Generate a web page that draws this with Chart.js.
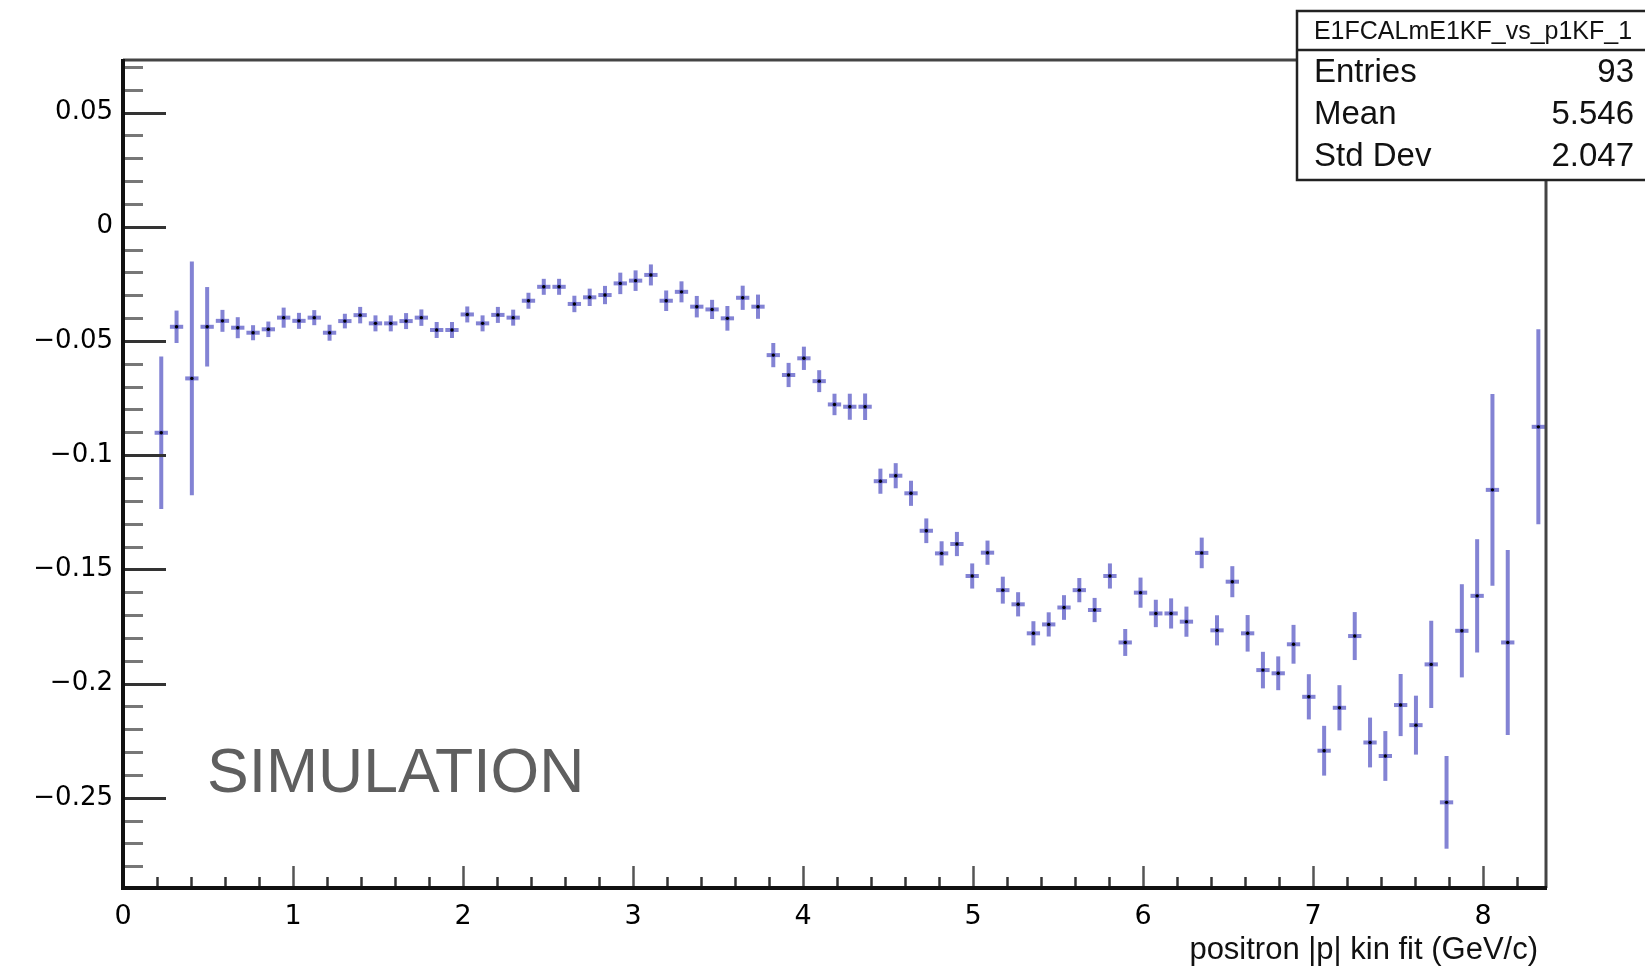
<!DOCTYPE html>
<html>
<head>
<meta charset="utf-8">
<title>E1FCALmE1KF_vs_p1KF_1</title>
<script src="https://cdn.jsdelivr.net/npm/chart.js@4.4.1/dist/chart.umd.min.js"></script>
<style>
  html, body { margin: 0; padding: 0; background: #fff; }
  #wrap { width: 1645px; height: 970px; position: relative; }
</style>
</head>
<body>
<div id="wrap"><canvas id="chart" width="1645" height="970"></canvas></div>
<script>
// bin centres (GeV/c), bin width 0.09, range 0 - 8.37
const binCenters = [
  0.225, 0.315, 0.405, 0.495, 0.585, 0.675, 0.765, 0.855, 0.945, 1.035,
  1.125, 1.215, 1.305, 1.395, 1.485, 1.575, 1.665, 1.755, 1.845, 1.935,
  2.025, 2.115, 2.205, 2.295, 2.385, 2.475, 2.565, 2.655, 2.745, 2.835,
  2.925, 3.015, 3.105, 3.195, 3.285, 3.375, 3.465, 3.555, 3.645, 3.735,
  3.825, 3.915, 4.005, 4.095, 4.185, 4.275, 4.365, 4.455, 4.545, 4.635,
  4.725, 4.815, 4.905, 4.995, 5.085, 5.175, 5.265, 5.355, 5.445, 5.535,
  5.625, 5.715, 5.805, 5.895, 5.985, 6.075, 6.165, 6.255, 6.345, 6.435,
  6.525, 6.615, 6.705, 6.795, 6.885, 6.975, 7.065, 7.155, 7.245, 7.335,
  7.425, 7.515, 7.605, 7.695, 7.785, 7.875, 7.965, 8.055, 8.145, 8.325
];
const binValues = [
  -0.0902, -0.0438, -0.0664, -0.0438, -0.0412, -0.0442, -0.0464, -0.0449, -0.0398, -0.0412,
  -0.0398, -0.0464, -0.0413, -0.0387, -0.0423, -0.0423, -0.0413, -0.0398, -0.0452, -0.0452,
  -0.0384, -0.0423, -0.0386, -0.0398, -0.0324, -0.0263, -0.0263, -0.0338, -0.0309, -0.0299,
  -0.0248, -0.0236, -0.0211, -0.0324, -0.0285, -0.0350, -0.0362, -0.0401, -0.0311, -0.0350,
  -0.0562, -0.0649, -0.0576, -0.0676, -0.0778, -0.0788, -0.0788, -0.1114, -0.1090, -0.1167,
  -0.1331, -0.1430, -0.1389, -0.1529, -0.1427, -0.1591, -0.1653, -0.1780, -0.1741, -0.1667,
  -0.1591, -0.1678, -0.1529, -0.1820, -0.1602, -0.1693, -0.1693, -0.1729, -0.1428, -0.1767,
  -0.1554, -0.1780, -0.1941, -0.1955, -0.1828, -0.2058, -0.2294, -0.2106, -0.1792, -0.2258,
  -0.2317, -0.2094, -0.2182, -0.1916, -0.2520, -0.1769, -0.1616, -0.1152, -0.1820, -0.0876
];
const binErrors = [
  0.0334, 0.0071, 0.0512, 0.0174, 0.0048, 0.0046, 0.0033, 0.0034, 0.0044, 0.0035,
  0.0033, 0.0035, 0.0032, 0.0036, 0.0035, 0.0035, 0.0035, 0.0036, 0.0035, 0.0035,
  0.0035, 0.0035, 0.0035, 0.0035, 0.0035, 0.0035, 0.0035, 0.0036, 0.0038, 0.0040,
  0.0047, 0.0045, 0.0046, 0.0045, 0.0046, 0.0047, 0.0042, 0.0054, 0.0053, 0.0053,
  0.0053, 0.0053, 0.0051, 0.0048, 0.0047, 0.0057, 0.0058, 0.0055, 0.0055, 0.0055,
  0.0054, 0.0053, 0.0053, 0.0055, 0.0053, 0.0059, 0.0053, 0.0053, 0.0053, 0.0054,
  0.0053, 0.0053, 0.0055, 0.0059, 0.0066, 0.0060, 0.0066, 0.0066, 0.0067, 0.0066,
  0.0068, 0.0080, 0.0080, 0.0074, 0.0085, 0.0099, 0.0109, 0.0099, 0.0105, 0.0109,
  0.0109, 0.0136, 0.0129, 0.0191, 0.0203, 0.0204, 0.0248, 0.0420, 0.0405, 0.0427
];
const binHalfWidth = 0.045;

const xTickValues = [0, 1, 2, 3, 4, 5, 6, 7, 8];
const yTickValues = [0.05, 0, -0.05, -0.1, -0.15, -0.2, -0.25];
const xAxisTitle = 'positron |p| kin fit (GeV/c)';

const statsTitle = 'E1FCALmE1KF_vs_p1KF_1';
const statsLabels = ['Entries', 'Mean', 'Std Dev'];
const statsValues = ['93', '5.546', '2.047'];

const barColor = 'rgba(55, 55, 185, 0.62)';

// 误差棒
const errorBars = {
  id: 'errorBars',
  beforeDatasetsDraw(chart) {
    const { ctx, scales: { x, y } } = chart;
    ctx.save();
    ctx.strokeStyle = barColor;
    ctx.lineWidth = 4;
    ctx.lineCap = 'butt';
    binCenters.forEach((c, i) => {
      const px = x.getPixelForValue(c);
      const py = y.getPixelForValue(binValues[i]);
      const top = y.getPixelForValue(binValues[i] + binErrors[i]);
      const bot = y.getPixelForValue(binValues[i] - binErrors[i]);
      ctx.beginPath();
      ctx.moveTo(px, top);
      ctx.lineTo(px, bot);
      ctx.stroke();
      const l = x.getPixelForValue(c - binHalfWidth) + 1;
      const r = x.getPixelForValue(c + binHalfWidth) - 1;
      ctx.beginPath();
      ctx.moveTo(l, py);
      ctx.lineTo(r, py);
      ctx.stroke();
    });
    ctx.restore();
  }
};

// ROOT 风格的边框、刻度、统计框
const rootFrame = {
  id: 'rootFrame',
  afterDraw(chart) {
    const { ctx, chartArea: a, scales: { x, y } } = chart;
    ctx.save();

    // y ticks (inward)
    for (let k = -28; k <= 7; k++) {
      const v = k / 100;
      const py = Math.round(y.getPixelForValue(v)) + 0.5;
      const major = k % 5 === 0;
      ctx.strokeStyle = major ? '#333' : '#777';
      ctx.lineWidth = 3;
      ctx.beginPath();
      ctx.moveTo(a.left, py);
      ctx.lineTo(a.left + (major ? 43 : 20), py);
      ctx.stroke();
    }
    // x ticks (inward)
    for (let k = 0; k <= 41; k++) {
      const v = k / 5;
      const px = Math.round(x.getPixelForValue(v)) + 0.5;
      const major = k % 5 === 0;
      ctx.strokeStyle = major ? '#555' : '#333';
      ctx.lineWidth = 2.5;
      ctx.beginPath();
      ctx.moveTo(px, a.bottom);
      ctx.lineTo(px, a.bottom - (major ? 22 : 11));
      ctx.stroke();
    }

    // frame
    ctx.strokeStyle = '#444';
    ctx.lineWidth = 3;
    ctx.beginPath();
    ctx.moveTo(a.left, a.top);
    ctx.lineTo(a.right, a.top);
    ctx.lineTo(a.right, a.bottom);
    ctx.stroke();
    ctx.strokeStyle = '#111';
    ctx.lineWidth = 4;
    ctx.beginPath();
    ctx.moveTo(a.left, a.top - 1);
    ctx.lineTo(a.left, a.bottom);
    ctx.lineTo(a.right + 1, a.bottom);
    ctx.stroke();

    // x axis title
    ctx.fillStyle = '#111';
    ctx.font = '31px "Liberation Sans", Arial, sans-serif';
    ctx.textAlign = 'right';
    ctx.textBaseline = 'middle';
    ctx.fillText(xAxisTitle, 1538, 950);

    // SIMULATION
    ctx.fillStyle = '#5f5f5f';
    ctx.font = '62.5px "Liberation Sans", Arial, sans-serif';
    ctx.textAlign = 'left';
    ctx.textBaseline = 'alphabetic';
    ctx.fillText('SIMULATION', 207, 792);

    // stats box
    const bx = 1297, by = 11, bw = 352, bh = 169;
    ctx.fillStyle = '#fff';
    ctx.fillRect(bx, by, bw, bh);
    ctx.strokeStyle = '#222';
    ctx.lineWidth = 2.5;
    ctx.strokeRect(bx, by, bw, bh);
    ctx.beginPath();
    ctx.moveTo(bx, 50);
    ctx.lineTo(bx + bw, 50);
    ctx.stroke();

    ctx.fillStyle = '#111';
    ctx.font = '25px "Liberation Sans", Arial, sans-serif';
    ctx.textAlign = 'center';
    ctx.textBaseline = 'middle';
    ctx.fillText(statsTitle, 1473, 32);

    ctx.font = '33px "Liberation Sans", Arial, sans-serif';
    const rowY = [73, 115, 157];
    statsLabels.forEach((t, i) => {
      ctx.textAlign = 'left';
      ctx.fillText(t, 1314, rowY[i]);
      ctx.textAlign = 'right';
      ctx.fillText(statsValues[i], 1634, rowY[i]);
    });

    ctx.restore();
  }
};

function fmtTick(v) {
  const r = Math.round(v * 100) / 100;
  if (r === 0) return '0';
  return r < 0 ? '\u2212' + String(-r) : String(r);
}

Chart.defaults.font.family = '"Liberation Sans", Arial, sans-serif';
Chart.defaults.color = '#111';

new Chart(document.getElementById('chart'), {
  type: 'scatter',
  data: {
    datasets: [{
      label: statsTitle,
      data: binCenters.map((c, i) => ({ x: c, y: binValues[i] })),
      pointRadius: 1.7,
      pointBackgroundColor: '#000',
      pointBorderWidth: 0,
      showLine: false
    }]
  },
  options: {
    responsive: false,
    animation: false,
    devicePixelRatio: 1,
    layout: { padding: { top: 60, right: 99, left: 0, bottom: 0 } },
    plugins: {
      legend: { display: false },
      tooltip: { enabled: false }
    },
    scales: {
      x: {
        type: 'linear',
        min: 0,
        max: 8.37,
        grid: { display: false, drawTicks: false },
        border: { display: false },
        afterBuildTicks: s => { s.ticks = xTickValues.map(v => ({ value: v })); },
        afterFit: s => { s.height = 82; },
        ticks: {
          autoSkip: false,
          maxRotation: 0,
          padding: 13,
          font: { family: '"DejaVu Sans", sans-serif', size: 27 },
          color: '#000',
          callback: v => fmtTick(v)
        }
      },
      y: {
        type: 'linear',
        min: -0.2895,
        max: 0.073,
        grid: { display: false, drawTicks: false },
        border: { display: false },
        afterBuildTicks: s => { s.ticks = yTickValues.map(v => ({ value: v })); },
        afterFit: s => { s.width = 123; },
        ticks: {
          autoSkip: false,
          padding: 10,
          font: { family: '"DejaVu Sans", sans-serif', size: 26 },
          color: '#000',
          callback: v => fmtTick(v)
        }
      }
    }
  },
  plugins: [errorBars, rootFrame]
});
</script>
</body>
</html>
